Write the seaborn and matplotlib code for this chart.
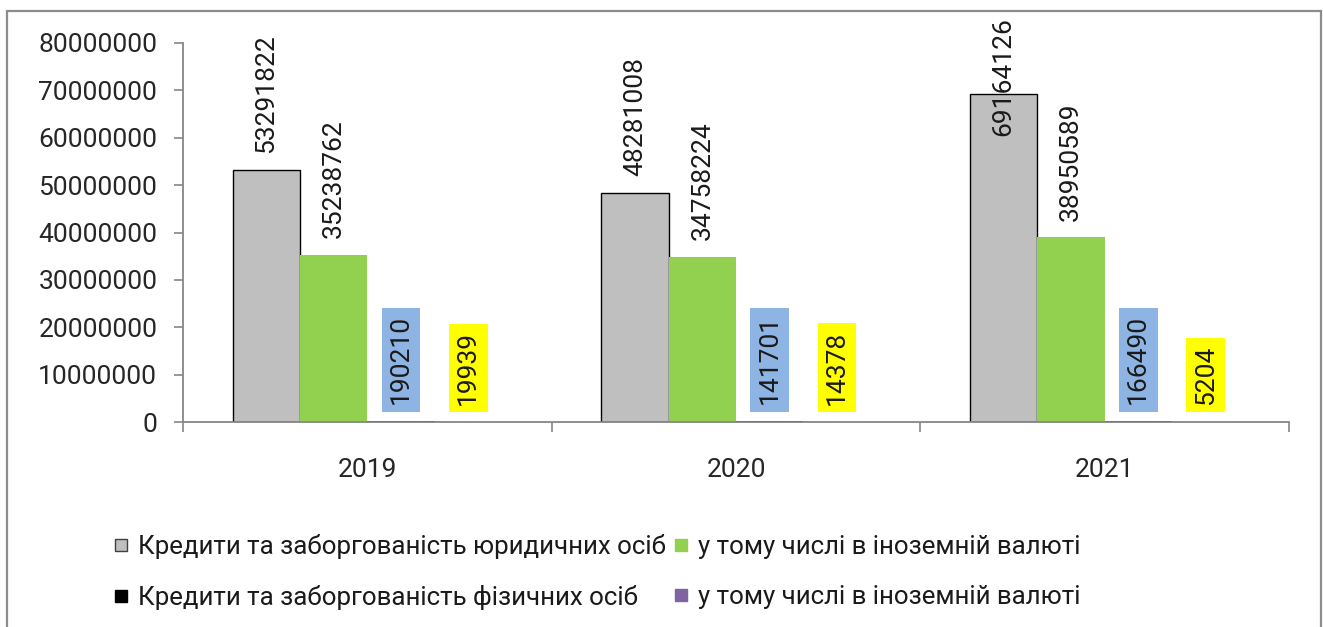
import numpy as np
import pandas as pd
import matplotlib
matplotlib.use("Agg")
import matplotlib.pyplot as plt
import seaborn as sns
from matplotlib.lines import Line2D
from matplotlib.patches import Rectangle
from matplotlib.ticker import FuncFormatter, FixedLocator

# ---- data ----
years = ["2019", "2020", "2021"]
series_names = [
    "Кредити та заборгованість юридичних осіб",
    "у тому числі в іноземній валюті",
    "Кредити та заборгованість фізичних осіб",
    "у тому числі в іноземній валюті ",
]
legal_total = [53291822, 48281008, 69164126]
legal_fx = [35238762, 34758224, 38950589]
phys_total = [190210, 141701, 166490]
phys_fx = [19939, 14378, 5204]
yticks = [0, 10000000, 20000000, 30000000, 40000000, 50000000, 60000000, 70000000, 80000000]

series_values = [legal_total, legal_fx, phys_total, phys_fx]
colors = ["#BFBFBF", "#92D050", "#000000", "#8064A2"]
label_boxes = [None, None, "#8EB4E3", "#FFFF00"]

rows = []
for name, vals in zip(series_names, series_values):
    for y, v in zip(years, vals):
        rows.append({"year": y, "series": name, "value": v})
df = pd.DataFrame(rows)

sns.set_theme(style="white")
plt.rcParams["font.family"] = ["Roboto", "DejaVu Sans"]

W, H, DPI = 1323, 627, 100
fig = plt.figure(figsize=(W / DPI, H / DPI), dpi=DPI)
ax = fig.add_axes([183 / W, (H - 422) / H, (1289 - 183) / W, 379 / H])

sns.barplot(data=df, x="year", y="value", hue="series", hue_order=series_names,
            order=years, palette=dict(zip(series_names, colors)), width=0.73,
            gap=0, dodge=True, ax=ax, legend=False, saturation=1, errorbar=None)

for i, cont in enumerate(ax.containers):
    for p in cont.patches:
        if i == 0:
            p.set_edgecolor("black")
            p.set_linewidth(1.0)
        else:
            p.set_edgecolor("none")
            p.set_linewidth(0)

ax.set_ylim(0, 80000000)
ax.set_xlim(-0.5, 2.5)
ax.yaxis.set_major_locator(FixedLocator(yticks))
ax.yaxis.set_major_formatter(FuncFormatter(lambda v, p: f"{int(v)}"))
ax.set_xlabel("")
ax.set_ylabel("")

axcol = "#868686"
for s in ["top", "right"]:
    ax.spines[s].set_visible(False)
for s in ["left", "bottom"]:
    ax.spines[s].set_color(axcol)
    ax.spines[s].set_linewidth(1.3)
    ax.spines[s].set_zorder(5)

ax.tick_params(axis="y", which="major", length=6.5, width=1.2, color=axcol,
               pad=12, labelsize=19, labelcolor="#262626", left=True, direction="out")
ax.set_xticks([0, 1, 2])
ax.set_xticklabels(years)
ax.set_xticks([-0.5, 0.5, 1.5, 2.5], minor=True)
ax.tick_params(axis="x", which="major", length=0, pad=26, labelsize=19, labelcolor="#262626")
ax.tick_params(axis="x", which="minor", length=7.5, width=1.2, color=axcol,
               bottom=True, direction="out")

# ---- data labels ----
texts = []
for i, cont in enumerate(ax.containers):
    for p, v in zip(cont.patches, series_values[i]):
        x = p.get_x() + p.get_width() / 2
        kw = {}
        if label_boxes[i] is not None:
            kw["bbox"] = dict(boxstyle="square,pad=0.28", fc=label_boxes[i], ec="none")
        t = ax.annotate(str(v), xy=(x, v), xytext=(0, 12.2), textcoords="offset points",
                        rotation=90, ha="center", va="bottom", fontsize=19,
                        color="#1a1a1a", annotation_clip=False, **kw)
        texts.append(t)

fig.canvas.draw()
renderer = fig.canvas.get_renderer()
top_limit = H - 17
for t in texts:
    bb = t.get_window_extent(renderer)
    if bb.y1 > top_limit:
        dx, dy = t.xyann
        t.xyann = (dx, dy - (bb.y1 - top_limit) * 72 / DPI)

# ---- legend ----
handles = [
    Line2D([], [], marker="s", linestyle="none", markersize=9, markerfacecolor=colors[0],
           markeredgecolor="#404040", markeredgewidth=1.0),
    Line2D([], [], marker="s", linestyle="none", markersize=9, markerfacecolor=colors[2],
           markeredgecolor=colors[2]),
    Line2D([], [], marker="s", linestyle="none", markersize=9, markerfacecolor=colors[1],
           markeredgecolor=colors[1]),
    Line2D([], [], marker="s", linestyle="none", markersize=9, markerfacecolor=colors[3],
           markeredgecolor=colors[3]),
]
labels = [series_names[0], series_names[2], series_names[1], series_names[3].strip()]
fig.legend(handles, labels, ncol=2, loc="upper left",
           bbox_to_anchor=(113 / W, 1 - 534 / H), frameon=False, fontsize=18.6,
           handlelength=0.6, handletextpad=0.35, columnspacing=0.3,
           labelspacing=1.0, borderpad=0, borderaxespad=0, labelcolor="#1a1a1a")

# outer chart border
fig.patches.append(Rectangle((7 / W, -0.05), (1321 - 7) / W, 1 - 11 / H + 0.05,
                             transform=fig.transFigure, fill=False,
                             edgecolor="#8c8c8c", linewidth=1.6))

fig.savefig("out.png", dpi=DPI)
